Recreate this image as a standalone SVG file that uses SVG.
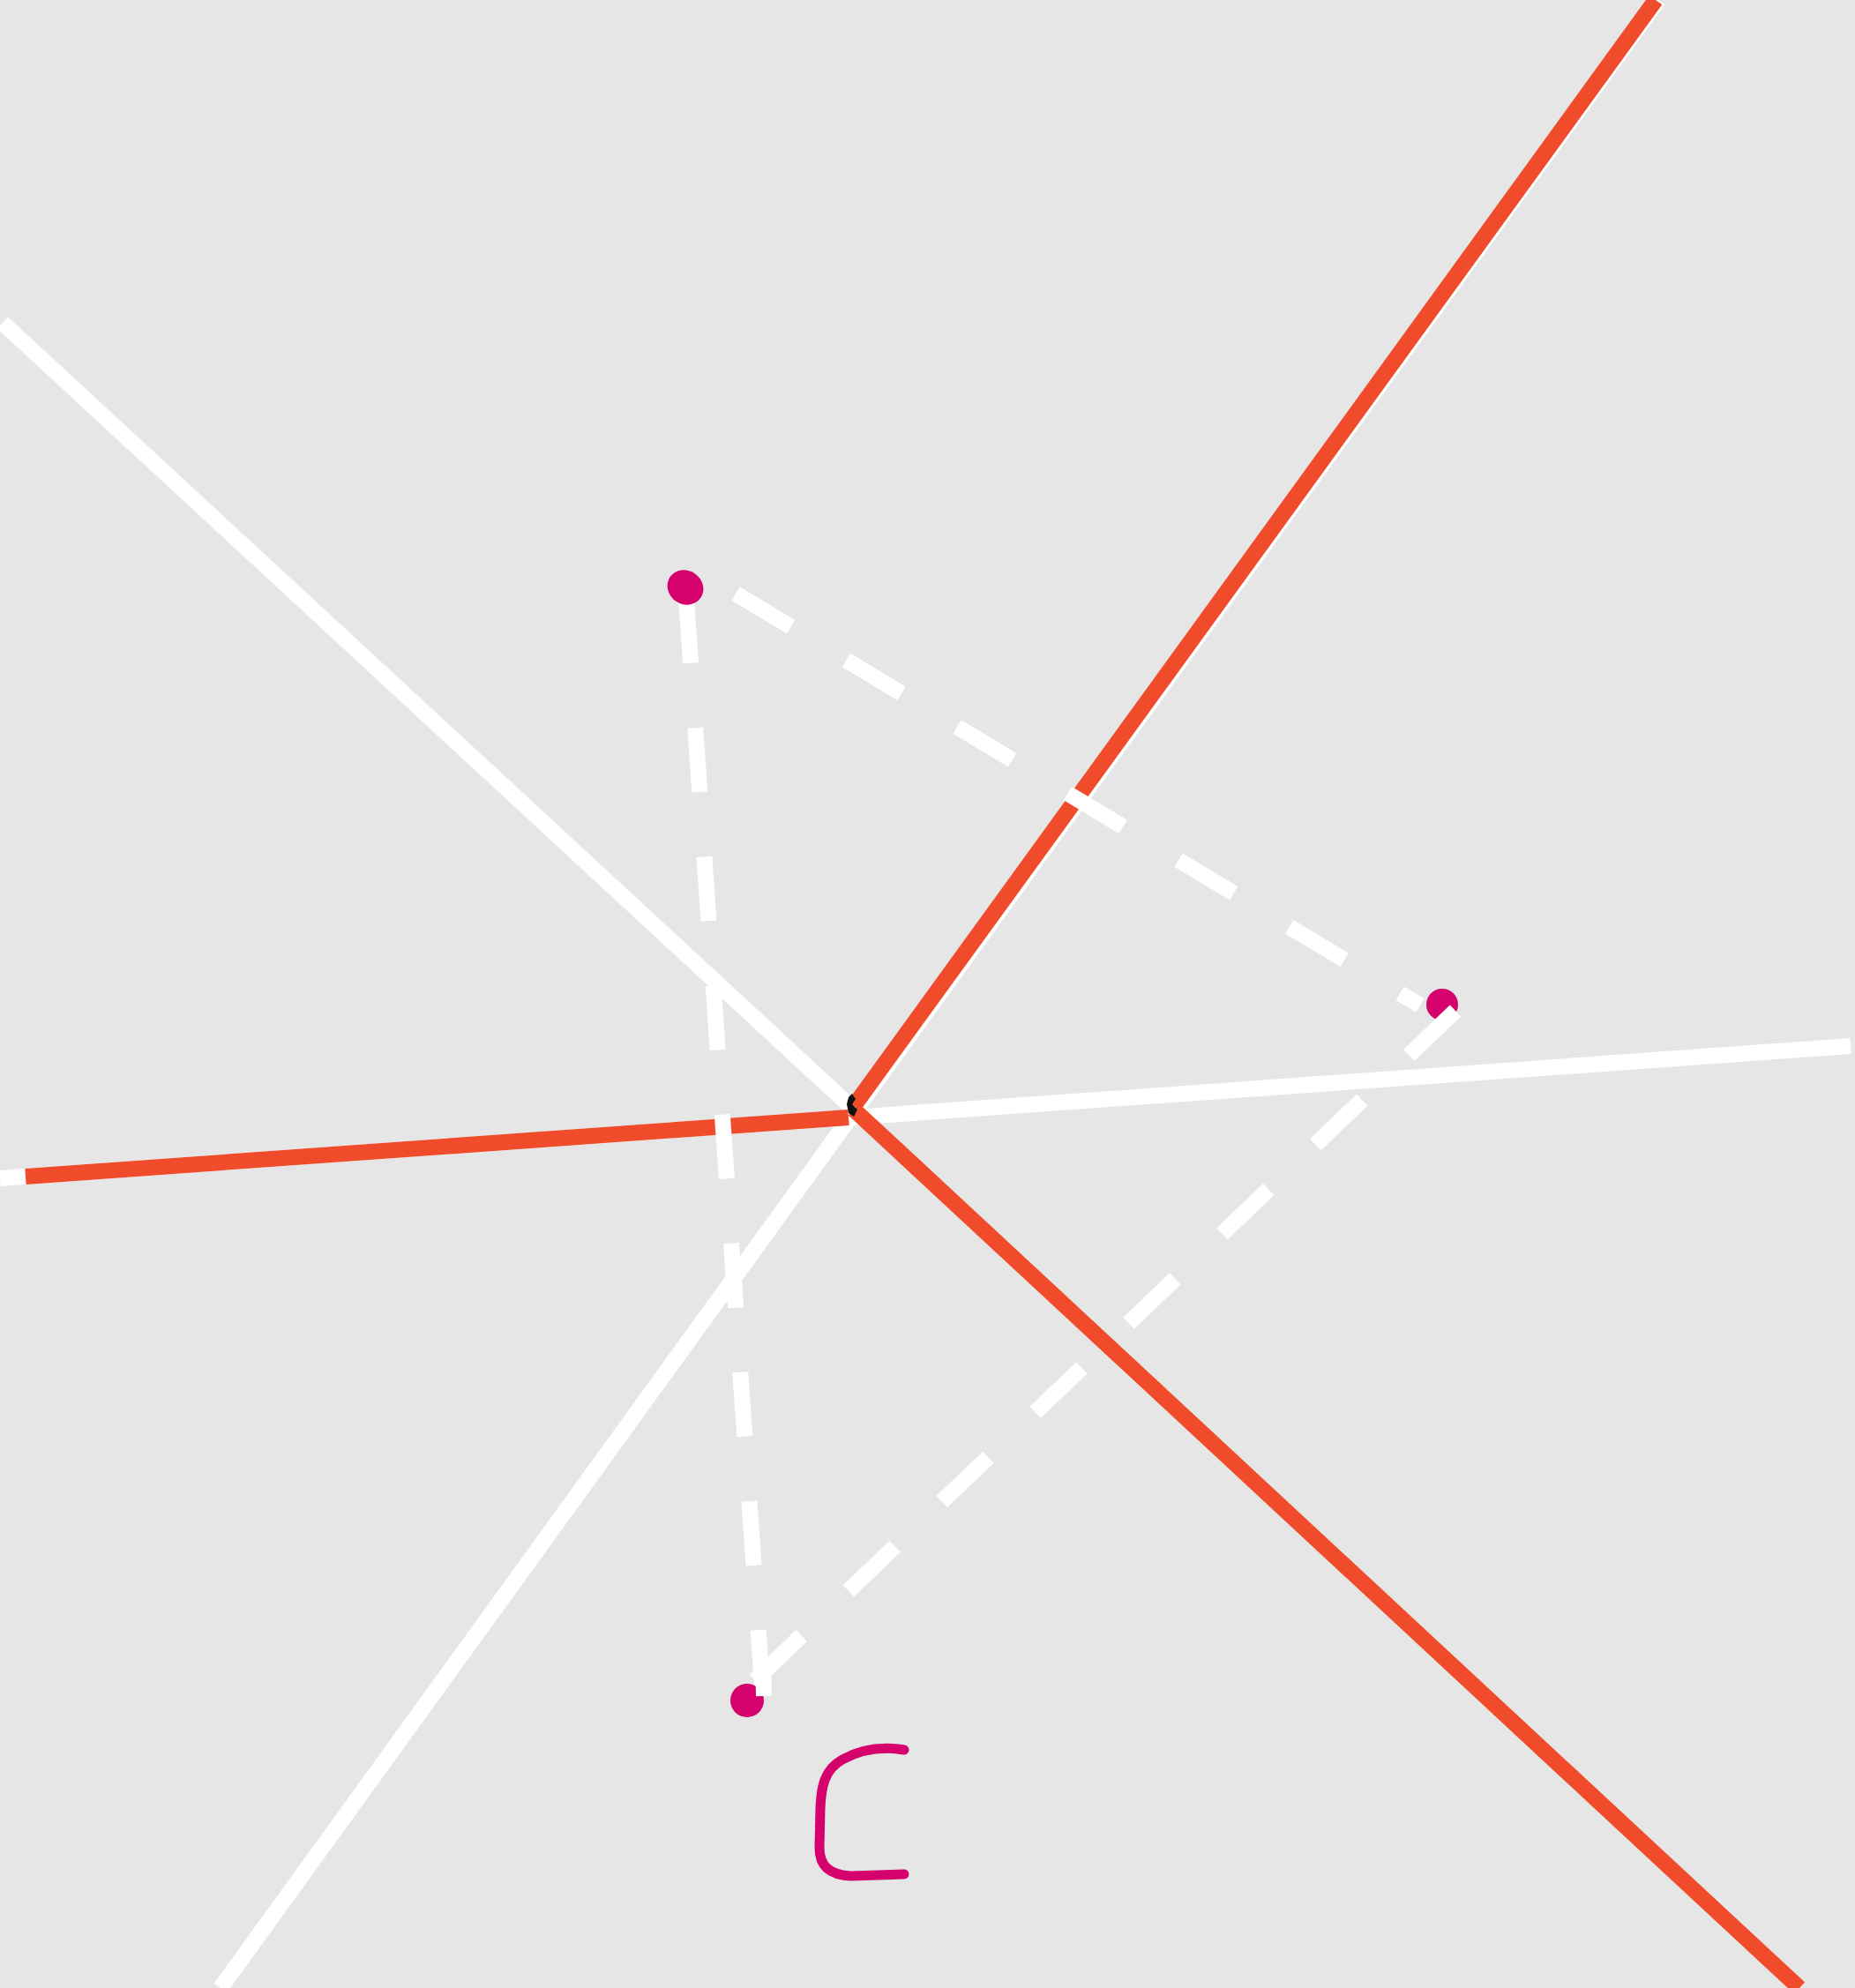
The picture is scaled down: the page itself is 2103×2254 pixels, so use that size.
<svg xmlns="http://www.w3.org/2000/svg" width="2103" height="2254" viewBox="0 0 2103 2254">
<style>
.w{stroke:#ffffff;stroke-width:18;fill:none;stroke-linecap:butt}
.r{stroke:#f04b2a;stroke-width:18;fill:none;stroke-linecap:butt}
.d{stroke:#ffffff;stroke-width:18;fill:none;stroke-dasharray:73 73.5}
.m{fill:#d5016c}
</style>
<rect width="2103" height="2254" fill="#e6e6e6"/>
<g id="connectors">
<line class="w" x1="3" y1="366" x2="968" y2="1258"/>
<line class="w" x1="250" y1="2254" x2="1880" y2="0"/>
<line class="w" x1="0" y1="1336" x2="2098" y2="1186"/>
<line class="r" x1="29" y1="1334" x2="962" y2="1267"/>
<line class="r" x1="968" y1="1254" x2="1877" y2="0"/>
<line class="r" x1="968" y1="1258" x2="2040" y2="2254"/>
<line class="d" x1="778" y1="679" x2="865" y2="1925"/>
<line class="d" x1="834" y1="673" x2="1610" y2="1140"/>
</g>
<g id="P1"><ellipse class="m" cx="777" cy="666" rx="21" ry="19" transform="rotate(35 777 666)"/></g>
<g id="P2"><circle class="m" cx="1635" cy="1139" r="18"/></g>
<g id="P3"><circle class="m" cx="847" cy="1928" r="19"/></g>
<g id="connectors2">
<line class="d" x1="1650" y1="1146" x2="856" y2="1905"/>
<line class="w" x1="865" y1="1880" x2="866" y2="1923"/>
</g>
<g id="center"><path d="M962,1244 L966,1240 L970,1246 L966,1252 L972,1258 L968,1266 L962,1262 L960,1252 Z" fill="#111"/></g>
<g id="label-C"><path d="M1025,1984 C1000,1980 975,1984 955,1995 C935,2006 931,2025 930,2050 L929,2095 C929,2115 940,2126 965,2127 L1025,2125" fill="none" stroke="#d5016c" stroke-width="11" stroke-linecap="round" stroke-linejoin="round"/></g>
</svg>
